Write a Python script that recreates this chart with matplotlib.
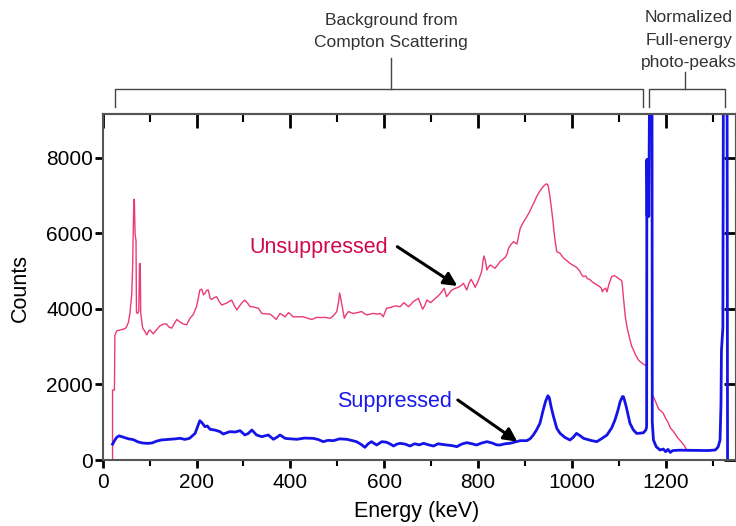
"""
Gamma spectrum: Compton-suppressed vs unsuppressed counts (Co-60 style).
"""

import matplotlib
matplotlib.use("Agg")
import matplotlib.pyplot as plt
from matplotlib import transforms
from matplotlib.ticker import MultipleLocator

plt.rcParams["font.family"] = ["Liberation Sans", "DejaVu Sans"]

# --- data (keV, counts) ---
unsup_kev = [
    21, 21, 25, 26, 30, 40, 48, 51, 55, 58, 62, 64, 65, 66.5, 67.5, 69, 71, 72, 75, 77,
    78.5, 80, 81, 85, 90, 94, 98, 101, 105, 108, 115, 122, 130, 136, 141, 147, 152, 158,
    165, 172, 179, 186, 193, 200, 204, 207, 211, 215, 218, 222, 225, 229, 232, 238, 243,
    248, 254, 259, 264, 270, 275, 280, 286, 290, 293, 298, 303, 309, 314, 322, 332, 339,
    348, 357, 363, 370, 374, 378, 384, 389, 396, 401, 406, 417, 428, 437, 446, 456, 465,
    474, 485, 492, 499, 503, 505, 507, 510, 515, 519, 524, 529, 534, 543, 552, 557, 563,
    570, 577, 586, 591, 595, 598, 605, 614, 623, 628, 634, 642, 647, 652, 657, 662, 668,
    673, 677, 682, 687, 691, 695, 699, 704, 709, 714, 719, 724, 728, 733, 738, 744, 751,
    758, 764, 769, 772, 776, 780, 785, 790, 794, 799, 804, 808, 811, 813, 816, 819, 822,
    826, 831, 836, 841, 847, 852, 858, 862, 865, 870, 876, 880, 883, 887, 890, 897, 904,
    910, 915, 920, 925, 930, 936, 940, 945, 948, 950, 953, 957, 960, 962, 965, 968, 975,
    982, 989, 996, 1003, 1010, 1017, 1021, 1025, 1030, 1033, 1038, 1045, 1052, 1058, 1063,
    1065, 1067, 1072, 1075, 1079, 1085, 1090, 1095, 1100, 1105, 1107, 1110, 1114, 1118,
    1124, 1128, 1132, 1135, 1138, 1142, 1146, 1150, 1156, 1159, 1160, 1160, 1165.5,
    1165.5, 1171, 1171.5, 1175, 1180, 1185, 1190, 1195, 1200, 1205, 1210, 1217, 1225,
    1232, 1240, 1245, 1250,
]
unsup_counts = [
    0, 1850, 1850, 3300, 3420, 3450, 3480, 3530, 3650, 3880, 4400, 5200, 6000, 6900, 6850,
    6000, 5800, 3900, 3880, 3950, 5200, 5200, 3900, 3500, 3400, 3310, 3420, 3440, 3380,
    3340, 3450, 3550, 3600, 3600, 3520, 3490, 3600, 3720, 3650, 3600, 3580, 3750, 3850,
    4060, 4300, 4500, 4520, 4370, 4410, 4500, 4500, 4280, 4250, 4300, 4320, 4200, 4100,
    4130, 4150, 4200, 4230, 4100, 3970, 4050, 4100, 4180, 4230, 4150, 4060, 4050, 4015,
    3880, 3870, 3860, 3800, 3720, 3800, 3880, 3830, 3790, 3900, 3850, 3790, 3790, 3790,
    3750, 3720, 3776, 3770, 3776, 3750, 3820, 3930, 4200, 4420, 4300, 4100, 3750, 3850,
    3930, 3900, 3880, 3900, 3930, 3880, 3840, 3860, 3880, 3860, 3880, 3840, 3790, 4015,
    4040, 4076, 4070, 4058, 4164, 4110, 4058, 4120, 4191, 4240, 4280, 4150, 3990, 4100,
    4235, 4200, 4164, 4220, 4280, 4330, 4394, 4470, 4544, 4323, 4400, 4500, 4540, 4571,
    4620, 4677, 4600, 4500, 4650, 4783, 4680, 4571, 4700, 4853, 5000, 5300, 5400, 5250,
    5029, 5100, 5161, 5120, 5074, 5150, 5250, 5300, 5364, 5450, 5603, 5700, 5779, 5740,
    5718, 5950, 6133, 6300, 6440, 6570, 6705, 6830, 6970, 7080, 7192, 7250, 7305, 7300,
    7235, 7000, 6617, 6300, 6044, 5750, 5514, 5470, 5350, 5280, 5206, 5150, 5100, 5000,
    4900, 4853, 4870, 4800, 4780, 4700, 4650, 4600, 4550, 4450, 4500, 4550, 4450, 4650,
    4853, 4880, 4850, 4800, 4760, 4720, 4300, 3793, 3500, 3176, 3000, 2900, 2800, 2735,
    2650, 2600, 2560, 2515, 2500, 2500, 7950, 7950, 9400, 9400, 1720, 1650, 1500, 1350,
    1300, 1235, 1100, 1000, 850, 750, 600, 500, 380, 265, 250,
]

sup_kev = [
    21, 26, 30, 35, 45, 55, 65, 75, 85, 95, 105, 115, 125, 140, 155, 165, 175, 185, 197,
    207, 212, 218, 223, 229, 240, 250, 257, 264, 271, 282, 293, 303, 310, 318, 328, 339,
    346, 353, 364, 371, 378, 389, 400, 414, 430, 449, 460, 470, 480, 492, 505, 520, 530,
    541, 550, 559, 566, 573, 584, 595, 605, 613, 620, 627, 634, 645, 655, 665, 675, 684,
    695, 705, 715, 725, 733, 745, 755, 765, 776, 787, 797, 808, 819, 830, 840, 847, 858,
    868, 880, 890, 904, 911, 918, 925, 932, 939, 944, 949, 952, 956, 961, 968, 975, 985,
    996, 1003, 1010, 1018, 1025, 1040, 1053, 1063, 1075, 1085, 1092, 1098, 1103, 1108,
    1110, 1113, 1116, 1124, 1131, 1138, 1146, 1153, 1158, 1159.5, 1160, 1160.8, 1161.6,
    1162.4, 1163.2, 1164, 1164.8, 1165.5, 1171, 1171.5, 1174, 1180, 1188, 1195, 1200,
    1205, 1210, 1215, 1230, 1260, 1290, 1306, 1312, 1316, 1318, 1319, 1321, 1322, 1322.5,
    1323, 1331, 1332,
]
sup_counts = [
    420, 529, 600, 640, 600, 560, 540, 480, 450, 440, 450, 500, 530, 545, 560, 575, 545,
    573, 705, 1041, 980, 882, 900, 812, 790, 750, 688, 720, 750, 740, 776, 662, 700, 794,
    662, 617, 640, 662, 548, 600, 662, 573, 560, 548, 580, 573, 540, 485, 520, 512, 560,
    548, 520, 485, 420, 335, 430, 485, 397, 485, 470, 423, 370, 420, 441, 420, 370, 430,
    400, 441, 400, 370, 430, 410, 397, 380, 353, 420, 459, 430, 397, 450, 485, 450, 400,
    397, 430, 441, 480, 512, 512, 560, 662, 800, 970, 1323, 1550, 1700, 1650, 1400, 1147,
    838, 705, 600, 529, 600, 705, 640, 573, 520, 485, 560, 662, 850, 1059, 1300, 1544,
    1680, 1676, 1550, 1411, 970, 800, 705, 710, 723, 800, 880, 7950, 6450, 7950, 6450,
    7950, 6450, 7950, 9400, 9400, 1000, 529, 350, 265, 290, 220, 280, 200, 250, 260, 255,
    250, 265, 350, 529, 1500, 2900, 3300, 3500, 7200, 9400, 9400, 0,
]

x_major = [0, 200, 400, 600, 800, 1000, 1200]
y_major = [0, 2000, 4000, 6000, 8000]

FIG_W, FIG_H = 736, 526


def fig_y(py: float) -> float:
    """Pixel row (from the top) -> figure fraction."""
    return 1 - py / FIG_H


def draw_bracket(ax, trans, x0, x1, xc, y_line, y_end, y_top):
    """Square bracket above the axes with a central stem."""
    ax.plot([x0, x0, x1, x1], [y_end, y_line, y_line, y_end],
            color="#444444", lw=1, transform=trans, clip_on=False)
    ax.plot([xc, xc], [y_line, y_top], color="#444444", lw=1,
            transform=trans, clip_on=False)


def main() -> None:
    fig = plt.figure(figsize=(FIG_W / 100, FIG_H / 100), dpi=100)
    ax = fig.add_axes([102.7 / FIG_W, 66 / FIG_H, 633.3 / FIG_W, 345.7 / FIG_H])

    # curves (pink first, blue on top)
    ax.plot(unsup_kev, unsup_counts, color="#ea3a78", lw=1.0)
    ax.plot(sup_kev, sup_counts, color="#1414e6", lw=2.0)

    ax.set_xlim(0, 1350)
    ax.set_ylim(0, 9150)

    # ticks: outward bottom/left, inward top/right
    ax.set_xticks(x_major)
    ax.set_yticks(y_major)
    ax.xaxis.set_minor_locator(MultipleLocator(100))
    ax.tick_params(axis="x", which="major", direction="out", length=6, width=2,
                   labelsize=15, pad=3)
    ax.tick_params(axis="x", which="minor", direction="out", length=4, width=1.5)
    ax.tick_params(axis="y", which="major", direction="out", length=6, width=2,
                   labelsize=15, pad=1)

    secx = ax.secondary_xaxis("top")
    secx.set_xticks(x_major)
    secx.xaxis.set_minor_locator(MultipleLocator(100))
    secx.tick_params(which="major", direction="in", length=10, width=2,
                     labeltop=False, labelbottom=False)
    secx.tick_params(which="minor", direction="in", length=6, width=1.5)

    secy = ax.secondary_yaxis("right")
    secy.set_yticks(y_major)
    secy.tick_params(direction="in", length=9, width=2,
                     labelright=False, labelleft=False)

    for spine_ax in (ax, secx, secy):
        for sp in spine_ax.spines.values():
            sp.set_color("#555555")
            sp.set_linewidth(1.5)

    # axis labels
    fig.text(417 / FIG_W, fig_y(511), "Energy (keV)", ha="center", va="center",
             fontsize=15.5)
    fig.text(20 / FIG_W, fig_y(288), "Counts", ha="center", va="center",
             rotation=90, fontsize=15.5)

    # curve labels + arrows
    ax.text(608, 5487, "Unsuppressed", color="#d2084f", fontsize=15.5,
            ha="right", va="baseline")
    ax.annotate("", xy=(756, 4606), xytext=(628, 5646),
                arrowprops=dict(arrowstyle="-|>", color="black", lw=2.2,
                                mutation_scale=20, shrinkA=0, shrinkB=0))
    ax.text(745, 1403, "Suppressed", color="#1a1ae6", fontsize=15.5,
            ha="right", va="baseline")
    ax.annotate("", xy=(884, 485), xytext=(757, 1588),
                arrowprops=dict(arrowstyle="-|>", color="black", lw=2.2,
                                mutation_scale=20, shrinkA=0, shrinkB=0))

    # brackets above the plot
    trans = transforms.blended_transform_factory(ax.transData, fig.transFigure)
    draw_bracket(ax, trans, 26, 1152, 615, fig_y(89), fig_y(107), fig_y(58))
    draw_bracket(ax, trans, 1165, 1327, 1242, fig_y(89), fig_y(107), fig_y(72))

    ax.text(615, fig_y(20), "Background from", transform=trans, ha="center",
            va="center", fontsize=12.5, color="#333333")
    ax.text(615, fig_y(42), "Compton Scattering", transform=trans, ha="center",
            va="center", fontsize=12.5, color="#333333")
    for label, py in (("Normalized", 18), ("Full-energy", 40), ("photo-peaks", 62)):
        ax.text(1250, fig_y(py), label, transform=trans, ha="center",
                va="center", fontsize=12.5, color="#333333")

    fig.savefig("out.png", dpi=100)


if __name__ == "__main__":
    main()
